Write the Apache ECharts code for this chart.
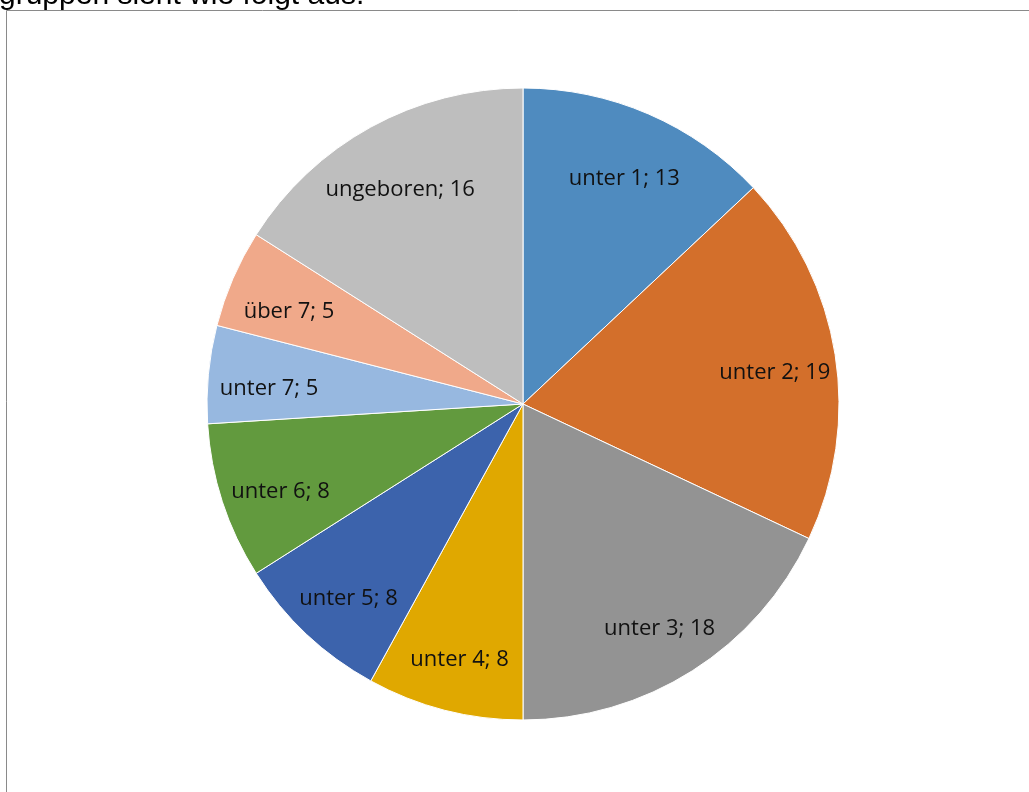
<!DOCTYPE html>
<html>
<head>
<meta charset="utf-8">
<script src="https://cdn.jsdelivr.net/npm/echarts@6/dist/echarts.min.js"></script>
<style>
html,body{margin:0;padding:0;background:#fff;}
#chart{width:1029px;height:792px;}
</style>
</head>
<body>
<div id="chart"></div>
<script>
const categories = ['unter 1','unter 2','unter 3','unter 4','unter 5','unter 6','unter 7','über 7','ungeboren'];
const values = [13,19,18,8,8,8,5,5,16];
const colors = ['#4F8BBF','#D36F2B','#939393','#E0A800','#3C63AC','#629A3E','#97B8E0','#F0A98A','#BEBEBE'];
const introText = 'gruppen sieht wie folgt aus.';

const data = categories.map((c,i)=>({name:c,value:values[i],itemStyle:{color:colors[i]}}));
const labelData = categories.map((c,i)=>({name:c,value:values[i]}));

const chart = echarts.init(document.getElementById('chart'));
chart.setOption({
  animation:false,
  backgroundColor:'#fff',
  graphic:[
    {type:'rect',shape:{x:6.5,y:10.5,width:1100,height:900},style:{fill:'none',stroke:'#8a8a8a',lineWidth:1},z:-1},
    {type:'text',x:-1,y:11,style:{text:introText,font:'30px "Liberation Sans", Arial, sans-serif',fill:'#000',textVerticalAlign:'bottom'}}
  ],
  series:[
    {
      type:'pie',
      center:[523,404],
      radius:[0,316],
      startAngle:90,
      clockwise:true,
      silent:true,
      data:data,
      label:{show:false},
      labelLine:{show:false},
      itemStyle:{borderColor:'#fff',borderWidth:1}
    },
    {
      type:'pie',
      center:[523,404],
      radius:[0,504],
      startAngle:90,
      clockwise:true,
      silent:true,
      z:5,
      data:labelData,
      itemStyle:{color:'rgba(0,0,0,0)'},
      label:{
        show:true,
        position:'inside',
        offset:[0,9],
        formatter:p=>p.name+'; '+p.value,
        fontFamily:'"Open Sans", sans-serif',
        fontSize:22,
        color:'#111'
      },
      labelLine:{show:false}
    }
  ]
});
</script>
</body>
</html>
